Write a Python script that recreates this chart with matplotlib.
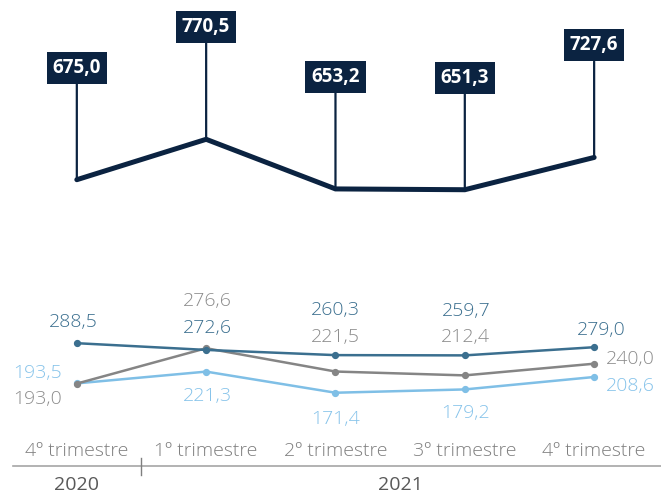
import matplotlib

matplotlib.use("Agg")
import matplotlib.pyplot as plt
import matplotlib.transforms as mtransforms

plt.rcParams["font.family"] = ["Open Sans", "DejaVu Sans"]

# data
quarters = ["4º trimestre", "1º trimestre", "2º trimestre", "3º trimestre", "4º trimestre"]
years = ["2020", "2021"]
total = [675.0, 770.5, 653.2, 651.3, 727.6]
serie_a = [288.5, 272.6, 260.3, 259.7, 279.0]
serie_b = [193.0, 276.6, 221.5, 212.4, 240.0]
serie_c = [193.5, 221.3, 171.4, 179.2, 208.6]

NAVY = "#0b2341"
TEAL = "#3b6f8f"
GREY = "#858585"
LIGHT = "#7fbfe6"

# label offsets (pixels) per point
off_a = [(-4, 21), (1, 22), (0, 45), (1, 44), (7, 17)]
off_b = [(-39, -15), (1, 47), (0, 35), (1, 38), (36, 5)]
off_c = [(-39, 10), (1, -24), (0, -26), (1, -24), (36, -9)]

fig = plt.figure(figsize=(6.61, 4.94), dpi=100)
ax = fig.add_axes([0, 0, 1, 1])
ax.set_xlim(-0.594, 4.517)
ax.set_ylim(-68.0, 1099.8)
ax.axis("off")

x = list(range(len(quarters)))

# total line with boxed labels
ax.plot(x, total, color=NAVY, lw=3.6, solid_capstyle="round", solid_joinstyle="miter")
for xi, v in zip(x, total):
    ax.annotate(
        f"{v:.1f}".replace(".", ","),
        xy=(xi, v),
        xytext=(0, 112),
        textcoords="offset pixels",
        ha="center",
        va="center",
        fontsize=13.5,
        fontweight="bold",
        color="white",
        bbox=dict(boxstyle="square,pad=0.32", fc=NAVY, ec="none"),
        arrowprops=dict(arrowstyle="-", color=NAVY, lw=1.6, shrinkA=0, shrinkB=0),
    )

for vals, col, tcol, offs in [
    (serie_c, LIGHT, "#86c3ea", off_c),
    (serie_b, GREY, "#8c8c8c", off_b),
    (serie_a, TEAL, TEAL, off_a),
]:
    ax.plot(x, vals, color=col, lw=1.8, marker="o", ms=4.2, mec=col, mfc=col)
    for xi, v, (dx, dy) in zip(x, vals, offs):
        ax.annotate(
            f"{v:.1f}".replace(".", ","),
            xy=(xi, v),
            xytext=(dx, dy),
            textcoords="offset pixels",
            ha="center",
            va="center",
            fontsize=14,
            fontweight="light",
            color=tcol,
        )

# category axis
trans = mtransforms.blended_transform_factory(ax.transData, ax.transAxes)
for xi, q in zip(x, quarters):
    ax.text(xi, 1 - 451 / 494, q, transform=trans, ha="center", va="center",
            fontsize=14, fontweight="light", color="#7f7f7f")
ax.plot([0.02, 1.0], [1 - 466 / 494] * 2, transform=ax.transAxes, color="#a6a6a6", lw=1.2)
ax.plot([0.5, 0.5], [1 - 458 / 494, 1 - 475 / 494], transform=trans, color="#7f7f7f", lw=1.0)
ax.text(0, 1 - 485 / 494, years[0], transform=trans, ha="center", va="center",
        fontsize=14, color="#595959")
ax.text(2.5, 1 - 485 / 494, years[1], transform=trans, ha="center", va="center",
        fontsize=14, color="#595959")

fig.savefig("out.png", dpi=100)
